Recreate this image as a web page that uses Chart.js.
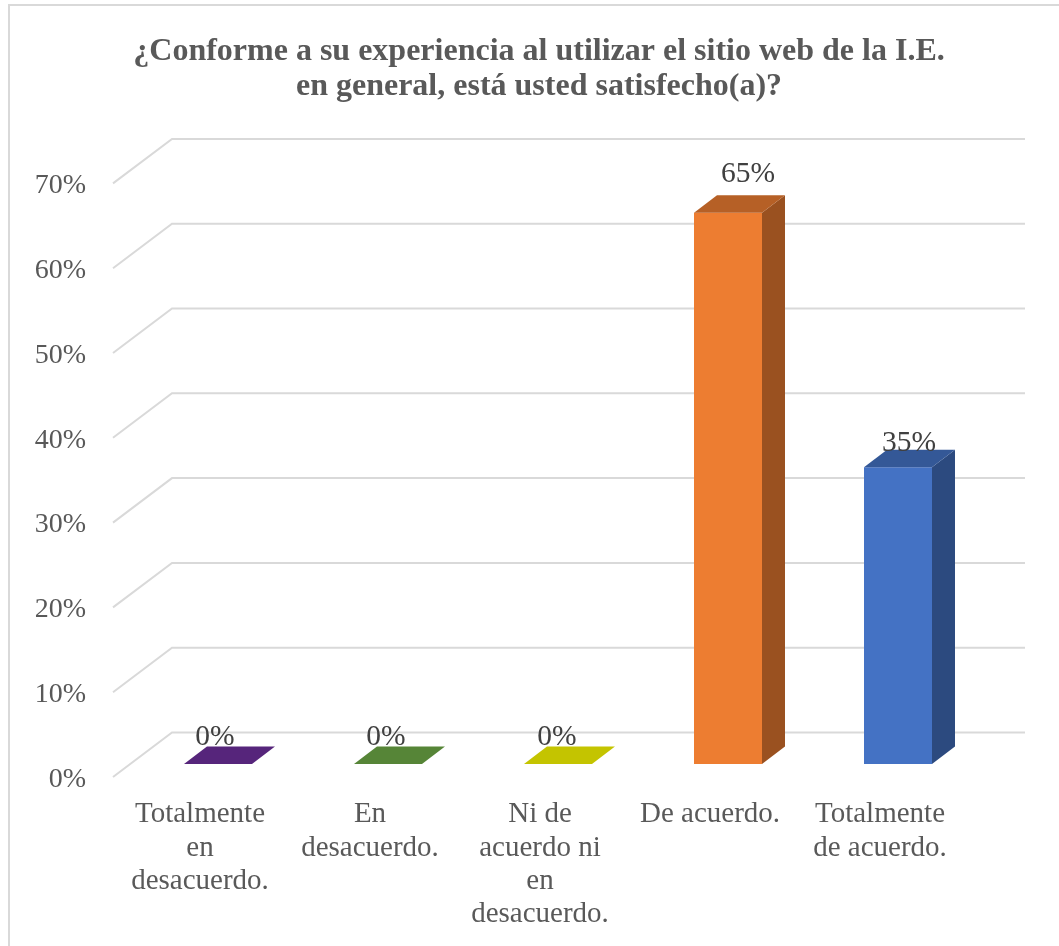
<!DOCTYPE html>
<html>
<head>
<meta charset="utf-8">
<title>Satisfacción sitio web</title>
<script src="https://cdn.jsdelivr.net/npm/chart.js@4"></script>
<style>
  html, body { margin: 0; background: #fff; overflow: hidden; width: 1059px; height: 946px; }
  #frame { position: absolute; left: 8px; top: 4px; width: 1070px; height: 970px; box-sizing: border-box; border: 2px solid #d9d9d9; background: #fff; }
  canvas { display: block; }
</style>
</head>
<body>
<div id="frame"><canvas id="chart" width="1058" height="954"></canvas></div>
<script>
const categories = [
  ["Totalmente", "en", "desacuerdo."],
  ["En", "desacuerdo."],
  ["Ni de", "acuerdo ni", "en", "desacuerdo."],
  "De acuerdo.",
  ["Totalmente", "de acuerdo."],
];
const values = [0, 0, 0, 65, 35];
const titleLines = [
  "¿Conforme a su experiencia al utilizar el sitio web de la I.E.",
  "en general, está usted satisfecho(a)?",
];
const barColors = ["#7030a0", "#70ad47", "#ffff00", "#ed7d31", "#4472c4"];
// hand placed labels in the original, offset from the top of each bar
const labelNudge = [[-3, -27], [-2, -27], [-1, -27], [20, -39], [11, -24]];

const FONT = "'Liberation Serif', 'Times New Roman', serif";
const DEPTH_X = 23;
const DEPTH_Y = 17.5;

function shade(hex, k) {
  const n = parseInt(hex.slice(1), 16);
  const c = [n >> 16, (n >> 8) & 255, n & 255].map((v) => Math.round(v * k));
  return `rgb(${c[0]},${c[1]},${c[2]})`;
}

function poly(ctx, pts, fill) {
  ctx.beginPath();
  pts.forEach((p, i) => (i ? ctx.lineTo(p[0], p[1]) : ctx.moveTo(p[0], p[1])));
  ctx.closePath();
  ctx.fillStyle = fill;
  ctx.fill();
}

// walls of the 3D look: each gridline has a slanted piece and a back piece
const wallGrid = {
  id: "wallGrid",
  beforeDatasetsDraw(chart) {
    const { ctx, chartArea, scales } = chart;
    ctx.save();
    ctx.strokeStyle = "#d9d9d9";
    ctx.lineWidth = 2;
    scales.y.ticks.forEach((t) => {
      const y = scales.y.getPixelForValue(t.value);
      ctx.beginPath();
      ctx.moveTo(chartArea.left - 20, y + 13);
      ctx.lineTo(chartArea.left + 39, y - 31.5);
      ctx.lineTo(chartArea.right + 42, y - 31.5);
      ctx.stroke();
    });
    ctx.restore();
  },
};

const bars3d = {
  id: "bars3d",
  afterDatasetsDraw(chart) {
    const { ctx } = chart;
    chart.getDatasetMeta(0).data.forEach((bar, i) => {
      const w = bar.width / 2;
      const l = bar.x - w;
      const r = bar.x + w;
      poly(ctx, [[r, bar.y], [r + DEPTH_X, bar.y - DEPTH_Y], [r + DEPTH_X, bar.base - DEPTH_Y], [r, bar.base]], shade(barColors[i], 0.65));
      poly(ctx, [[l, bar.y], [l + DEPTH_X, bar.y - DEPTH_Y], [r + DEPTH_X, bar.y - DEPTH_Y], [r, bar.y]], shade(barColors[i], 0.77));
      ctx.save();
      ctx.font = `29.5px ${FONT}`;
      ctx.fillStyle = "#404040";
      ctx.textAlign = "center";
      ctx.textBaseline = "middle";
      ctx.fillText(values[i] + "%", bar.x + labelNudge[i][0], bar.y + labelNudge[i][1]);
      ctx.restore();
    });
  },
};

new Chart(document.getElementById("chart"), {
  type: "bar",
  data: {
    labels: categories,
    datasets: [
      {
        data: values,
        backgroundColor: barColors,
        barPercentage: 0.4,
        categoryPercentage: 1,
      },
    ],
  },
  options: {
    responsive: false,
    animation: false,
    plugins: {
      legend: { display: false },
      tooltip: { enabled: false },
      title: {
        display: true,
        text: titleLines,
        color: "#595959",
        font: { family: FONT, size: 32, weight: "bold", lineHeight: 1.094 },
        padding: { top: 28.5, bottom: 65.9 },
      },
    },
    scales: {
      x: {
        grid: { display: false },
        border: { display: false },
        ticks: {
          color: "#595959",
          font: { family: FONT, size: 29, lineHeight: 1.15 },
          padding: 26,
          labelOffset: -18,
          autoSkip: false,
          maxRotation: 0,
          minRotation: 0,
        },
        afterFit(scale) {
          scale.height = 196;
        },
      },
      y: {
        min: 0,
        max: 70,
        grid: { display: false },
        border: { display: false },
        ticks: {
          stepSize: 10,
          color: "#595959",
          font: { family: FONT, size: 28 },
          padding: 39,
          labelOffset: 15.5,
          callback: (v) => v + "%",
        },
        afterFit(scale) {
          scale.width = 123;
        },
      },
      // empty axis, only keeps the plot off the right edge with the title still centered
      spacer: {
        position: "right",
        grid: { display: false },
        border: { display: false },
        ticks: { display: false },
        afterFit(scale) {
          scale.width = 85;
        },
      },
    },
  },
  plugins: [wallGrid, bars3d],
});
</script>
</body>
</html>
